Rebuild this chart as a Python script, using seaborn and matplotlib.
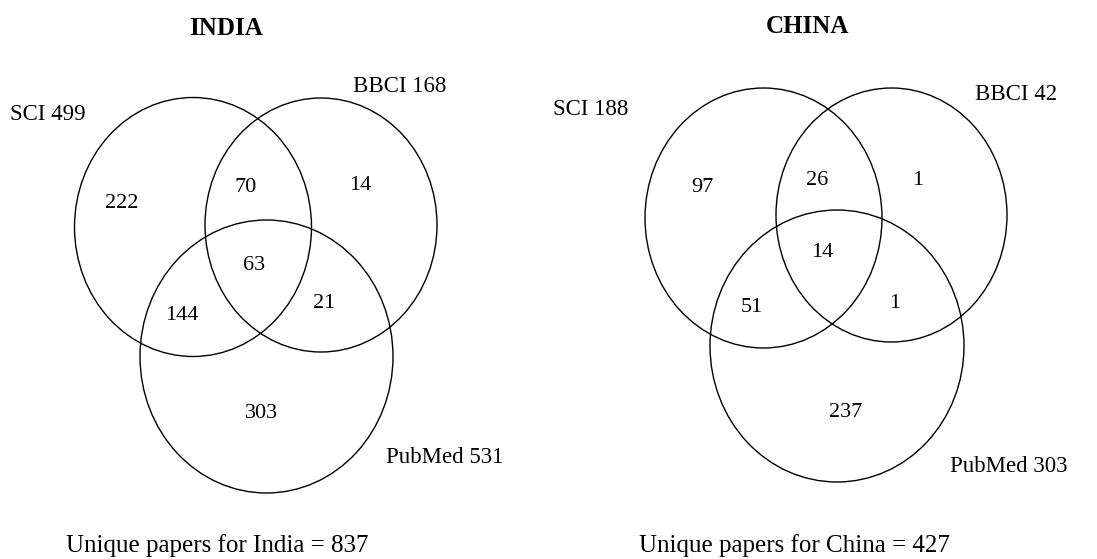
import matplotlib
matplotlib.use("Agg")
import matplotlib.pyplot as plt
from matplotlib.patches import Ellipse
import seaborn as sns

# data
sets = ["SCI", "BBCI", "PubMed"]
india_totals = [499, 168, 531]
china_totals = [188, 42, 303]
# regions: SCI only, SCI&BBCI, BBCI only, all three, SCI&PubMed, BBCI&PubMed, PubMed only
india_counts = [222, 70, 14, 63, 144, 21, 303]
china_counts = [97, 26, 1, 14, 51, 1, 237]
countries = ["INDIA", "CHINA"]
unique_names = ["India", "China"]
unique_totals = [837, 427]

# layout in pixel space (figure is 1097 x 559)
layout = {
    "INDIA": {
        "ellipses": [(193, 227, 237, 259), (321, 225, 232, 254), (266.5, 356.5, 253, 273)],
        "labels": [(10, 120), (353, 92), (386, 463)],
        "counts": [(122, 208), (246, 192), (360, 190), (254, 270), (182, 320), (324, 308), (262, 418)],
        "title": (226, 35),
        "footer": (217, 552),
    },
    "CHINA": {
        "ellipses": [(763.5, 218, 237, 260), (891.5, 215, 231, 254), (837, 346, 254, 272)],
        "labels": [(553, 115), (975, 100), (950, 472)],
        "counts": [(702, 192), (817, 185), (918, 185), (822, 257), (752, 312), (895, 308), (846, 417)],
        "title": (807, 33),
        "footer": (794, 552),
    },
}

sns.set_theme(style="white")
plt.rcParams["font.family"] = ["Liberation Serif", "DejaVu Serif"]

fig = plt.figure(figsize=(10.97, 5.59), dpi=100)
ax = fig.add_axes([0, 0, 1, 1])
ax.set_xlim(0, 1097)
ax.set_ylim(559, 0)
ax.axis("off")

all_totals = [india_totals, china_totals]
all_counts = [india_counts, china_counts]

for i, country in enumerate(countries):
    lay = layout[country]
    for (cx, cy, w, h) in lay["ellipses"]:
        ax.add_patch(Ellipse((cx, cy), w, h, fill=False, edgecolor="black", linewidth=1.0))
    for name, total, (x, y) in zip(sets, all_totals[i], lay["labels"]):
        ax.text(x, y, f"{name} {total}", fontsize=16.5, ha="left", va="baseline", color="black")
    for n, (x, y) in zip(all_counts[i], lay["counts"]):
        ax.text(x, y, str(n), fontsize=16, ha="center", va="baseline", color="black")
    tx, ty = lay["title"]
    ax.text(tx, ty, country, fontsize=18, fontweight="bold", ha="center", va="baseline", color="black")
    fx, fy = lay["footer"]
    ax.text(fx, fy, f"Unique papers for {unique_names[i]} = {unique_totals[i]}",
            fontsize=18, ha="center", va="baseline", color="black")

fig.savefig("out.png", dpi=100, facecolor="white")
